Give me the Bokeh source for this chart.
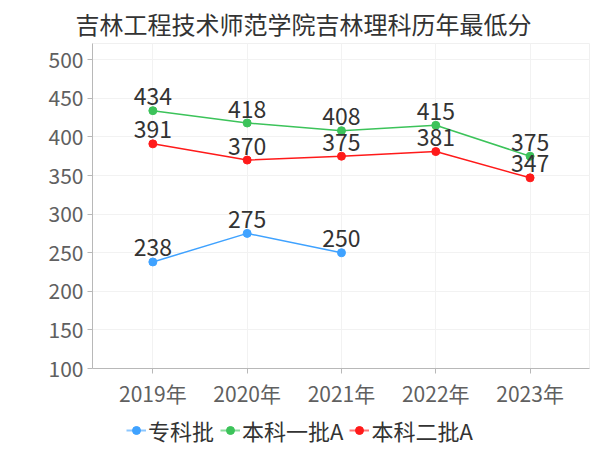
from bokeh.plotting import figure
from bokeh.layouts import column
from bokeh.models import Range1d, Legend, LegendItem, FixedTicker, ColumnDataSource
from bokeh.embed import file_html
from bokeh.resources import INLINE
from bokeh.core.properties import value

title_text = "吉林工程技术师范学院吉林理科历年最低分"
years = ["2019年", "2020年", "2021年", "2022年", "2023年"]
zhuanke = [238, 275, 250]
benke1a = [434, 418, 408, 415, 375]
benke2a = [391, 370, 375, 381, 347]
series_names = ["专科批", "本科一批A", "本科二批A"]
series_values = [zhuanke, benke1a, benke2a]
colors = ["#3fa2ff", "#3cc35a", "#ff1a1a"]
y_ticks = [100, 150, 200, 250, 300, 350, 400, 450, 500]

FONT = "Noto Sans CJK SC"

p = figure(frame_width=497, frame_height=325, output_backend="svg", toolbar_location=None,
           x_range=Range1d(-0.64, 4.63), y_range=Range1d(100, 521),
           min_border_left=92, min_border_right=11, min_border_top=43, min_border_bottom=42,
           title=title_text)
p.title.align = "left"
p.title.offset = -17
p.title.standoff = 6
p.title.text_font = FONT
p.title.text_font_size = "24px"
p.title.text_font_style = "normal"
p.title.text_color = "#333333"
p.outline_line_color = "#f0f0f0"
p.background_fill_color = "white"

p.xaxis.ticker = FixedTicker(ticks=list(range(len(years))))
p.xaxis.major_label_overrides = {i: y for i, y in enumerate(years)}
p.yaxis.ticker = FixedTicker(ticks=y_ticks)
for ax in (p.xaxis[0], p.yaxis[0]):
    ax.axis_line_color = "#b8b8b8"
    ax.major_tick_line_color = "#b8b8b8"
    ax.minor_tick_line_color = None
    ax.major_tick_in = 0
    ax.major_tick_out = 5
    ax.major_label_text_font = FONT
    ax.major_label_text_font_size = "21px"
    ax.major_label_text_color = "#606060"
    ax.major_label_standoff = 4
p.xgrid.grid_line_color = "#f2f2f2"
p.ygrid.grid_line_color = "#f2f2f2"

# legend strip below the chart (its ranges keep the key renderers out of view)
lg = figure(width=600, height=40, output_backend="svg", toolbar_location=None,
            x_range=Range1d(0, 1), y_range=Range1d(0, 1),
            x_axis_type=None, y_axis_type=None,
            min_border_left=0, min_border_right=0, min_border_top=0, min_border_bottom=0)
lg.title = None
lg.outline_line_color = None
lg.xgrid.visible = False
lg.ygrid.visible = False

items = []
for name, vals, c in zip(series_names, series_values, colors):
    src = ColumnDataSource(dict(x=list(range(len(vals))), y=vals, t=[str(v) for v in vals]))
    p.line("x", "y", source=src, line_color=c, line_width=1.5)
    p.scatter("x", "y", source=src, size=8, fill_color=c, line_color=c)
    p.text("x", "y", text="t", source=src, text_align="center", text_baseline="alphabetic",
           y_offset=-14, text_font=value(FONT), text_font_size="23px", text_color="#333333")
    k1 = lg.line("x", "y", source=src, line_color=c, line_width=2, line_alpha=0.6)
    k2 = lg.scatter("x", "y", source=src, size=8, fill_color=c, line_color=c)
    items.append(LegendItem(label=name, renderers=[k1, k2]))

legend = Legend(items=items, orientation="horizontal", location=(34, 4),
                label_text_font=FONT, label_text_font_size="22px", label_text_color="#333333",
                glyph_width=20, glyph_height=20, label_standoff=2, spacing=6,
                border_line_color=None, background_fill_alpha=0, padding=4, margin=0)
lg.add_layout(legend)

layout = column(p, lg, spacing=0)
open("out.html", "w").write(file_html(layout, INLINE))
